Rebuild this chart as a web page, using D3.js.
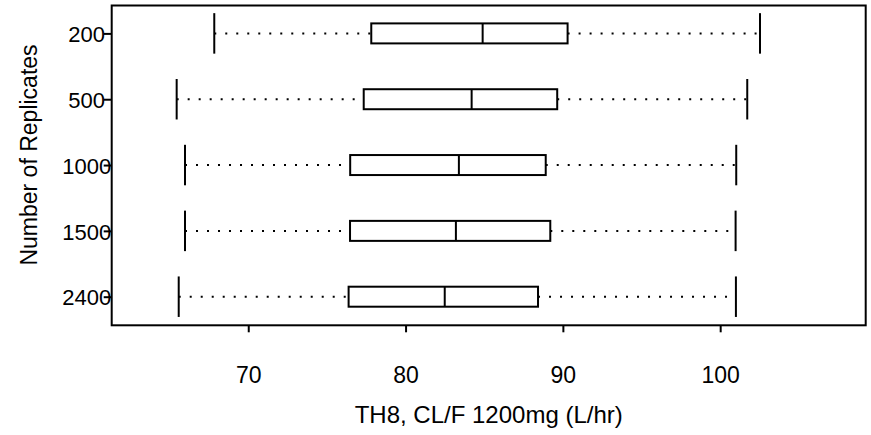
<!DOCTYPE html>
<html>
<head>
<meta charset="utf-8">
<script src="https://cdn.jsdelivr.net/npm/d3@7"></script>
<style>
  html, body { margin: 0; padding: 0; background: #fff; }
  svg { display: block; }
  text { font-family: Arial, "Liberation Sans", sans-serif; fill: #000; }
</style>
</head>
<body>
<svg id="chart" width="871" height="435"></svg>
<script>
// Data
const categories = ["200", "500", "1000", "1500", "2400"];
const whiskerLow  = [67.84, 65.45, 65.98, 65.98, 65.58];
const q1          = [77.82, 77.34, 76.48, 76.47, 76.38];
const median      = [84.90, 84.20, 83.39, 83.20, 82.49];
const q3          = [90.30, 89.64, 88.91, 89.20, 88.42];
const whiskerHigh = [102.53, 101.72, 101.02, 100.98, 101.00];
const xTicks = [70, 80, 90, 100];
const xTitle = "TH8, CL/F 1200mg (L/hr)";
const yTitle = "Number of Replicates";

const rows = categories.map((c, i) => ({
  cat: c, lo: whiskerLow[i], q1: q1[i], med: median[i], q3: q3[i], hi: whiskerHigh[i]
}));

const svg = d3.select("#chart");
const plot = { left: 111.7, right: 865.7, top: 5.5, bottom: 325.3 };

const x = d3.scaleLinear().domain([61.32, 109.25]).range([plot.left, plot.right]);
const y = d3.scalePoint().domain(categories).range([33.4, 296.7]);

const boxH = 20, capH = 40.5;

// border
svg.append("rect")
  .attr("x", plot.left).attr("y", plot.top)
  .attr("width", plot.right - plot.left).attr("height", plot.bottom - plot.top)
  .attr("fill", "none").attr("stroke", "#000").attr("stroke-width", 2);

// x axis
const gx = svg.append("g").attr("transform", `translate(0,${plot.bottom})`)
  .call(d3.axisBottom(x).tickValues(xTicks).tickSize(7).tickPadding(34).tickFormat(d3.format("d")));
gx.select(".domain").remove();
gx.selectAll(".tick line").attr("stroke", "#000").attr("stroke-width", 2);
gx.selectAll(".tick text").attr("font-size", 23).attr("font-family", "Arial, 'Liberation Sans', sans-serif").attr("dy", "0.71em");

// y axis
const gy = svg.append("g").attr("transform", `translate(${plot.left},0)`)
  .call(d3.axisLeft(y).tickSize(8).tickPadding(0));
gy.select(".domain").remove();
gy.selectAll(".tick line").attr("stroke", "#000").attr("stroke-width", 2);
gy.selectAll(".tick text")
  .attr("font-size", 22).attr("font-family", "Arial, 'Liberation Sans', sans-serif")
  .attr("text-anchor", "middle").attr("x", -25).attr("dy", "0.37em");

// boxes
const g = svg.append("g").attr("stroke", "#000").attr("fill", "none");
const bp = g.selectAll("g.bp").data(rows).join("g").attr("class", "bp");

// whiskers (dotted)
bp.append("line")
  .attr("x1", d => x(d.lo)).attr("x2", d => x(d.q1))
  .attr("y1", d => y(d.cat)).attr("y2", d => y(d.cat))
  .attr("stroke-width", 2).attr("stroke-dasharray", "2 9");
bp.append("line")
  .attr("x1", d => x(d.q3)).attr("x2", d => x(d.hi))
  .attr("y1", d => y(d.cat)).attr("y2", d => y(d.cat))
  .attr("stroke-width", 2).attr("stroke-dasharray", "2 9");
// caps
bp.append("line")
  .attr("x1", d => x(d.lo)).attr("x2", d => x(d.lo))
  .attr("y1", d => y(d.cat) - capH / 2).attr("y2", d => y(d.cat) + capH / 2)
  .attr("stroke-width", 2);
bp.append("line")
  .attr("x1", d => x(d.hi)).attr("x2", d => x(d.hi))
  .attr("y1", d => y(d.cat) - capH / 2).attr("y2", d => y(d.cat) + capH / 2)
  .attr("stroke-width", 2);
// box
bp.append("rect")
  .attr("x", d => x(d.q1)).attr("width", d => x(d.q3) - x(d.q1))
  .attr("y", d => y(d.cat) - boxH / 2).attr("height", boxH)
  .attr("fill", "#fff").attr("stroke-width", 2);
// median
bp.append("line")
  .attr("x1", d => x(d.med)).attr("x2", d => x(d.med))
  .attr("y1", d => y(d.cat) - boxH / 2).attr("y2", d => y(d.cat) + boxH / 2)
  .attr("stroke-width", 2);

// titles
svg.append("text")
  .attr("x", (plot.left + plot.right) / 2).attr("y", 423.3)
  .attr("text-anchor", "middle").attr("font-size", 24)
  .text(xTitle);
svg.append("text")
  .attr("transform", "translate(36.5,155) rotate(-90)")
  .attr("text-anchor", "middle").attr("font-size", 23)
  .text(yTitle);
</script>
</body>
</html>
